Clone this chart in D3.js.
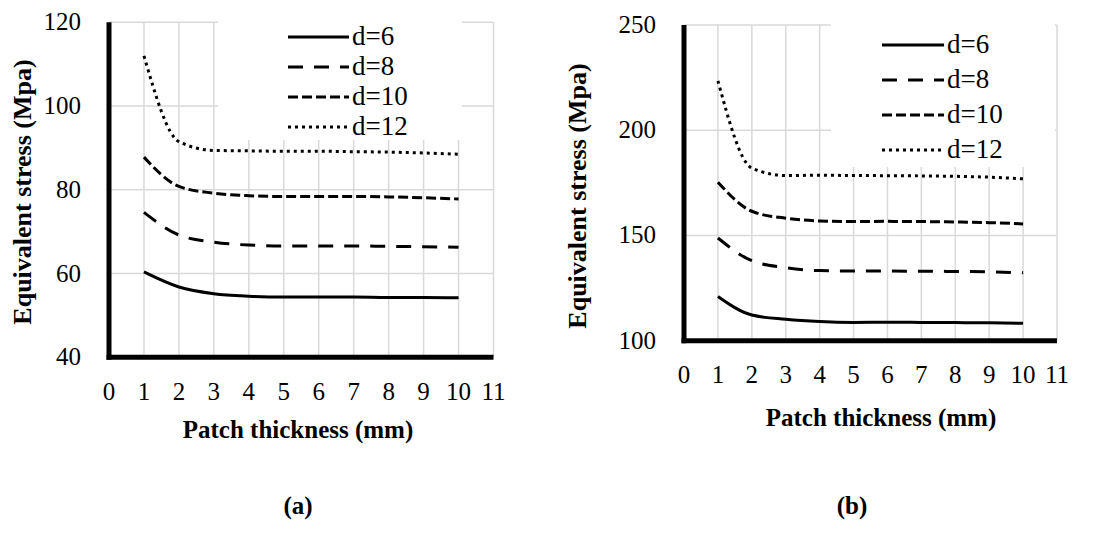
<!DOCTYPE html>
<html><head><meta charset="utf-8">
<script src="https://cdn.jsdelivr.net/npm/d3@7"></script>
<style>body{margin:0;background:#fff}svg{display:block}</style>
</head><body><svg id="c" width="1100" height="541" font-family="'Liberation Serif', 'Times New Roman', Times, serif"></svg>
<script>
const thickness = [1,2,3,4,5,6,7,8,9,10];
const seriesNames = ["d=6","d=8","d=10","d=12"];
const xTicks = [0,1,2,3,4,5,6,7,8,9,10,11];
const yTicksA = [40,60,80,100,120];
const yTicksB = [100,150,200,250];
const stressA_d6  = [60.4,56.8,55.2,54.6,54.4,54.4,54.4,54.3,54.3,54.2];
const stressA_d8  = [74.6,69.2,67.5,66.8,66.6,66.6,66.6,66.5,66.4,66.3];
const stressA_d10 = [87.8,80.8,79.2,78.6,78.4,78.4,78.4,78.3,78.1,77.8];
const stressA_d12 = [112,91.5,89.4,89.3,89.2,89.2,89.1,89.0,88.8,88.5];
const stressB_d6  = [121,112.2,110.2,109.1,108.7,108.8,108.7,108.6,108.5,108.3];
const stressB_d8  = [148.8,138,134.7,133.3,133.1,133.1,133.0,132.9,132.7,132.3];
const stressB_d10 = [175.3,161.5,158.2,156.9,156.6,156.7,156.6,156.4,156.1,155.5];
const stressB_d12 = [223.5,182,178.5,178.6,178.5,178.4,178.3,178.1,177.7,176.9];
const xTitle = "Patch thickness (mm)";
const yTitle = "Equivalent stress (Mpa)";

const dashes = [null, "15 11", "10 4", "3 4"];
const svg = d3.select("#c");

function panel(o){
  const g = svg.append("g");
  const x = d3.scaleLinear().domain([0,11]).range([o.x0,o.x1]);
  const y = d3.scaleLinear().domain(o.ydom).range([o.y0,o.y1]);
  g.selectAll(".vg").data(xTicks.slice(1)).join("line")
    .attr("x1",d=>x(d)).attr("x2",d=>x(d)).attr("y1",o.y0).attr("y2",o.y1)
    .attr("stroke","#d9d9d9").attr("stroke-width",1.5);
  g.selectAll(".hg").data(o.yticks.slice(1)).join("line")
    .attr("x1",o.x0).attr("x2",o.x1).attr("y1",d=>y(d)).attr("y2",d=>y(d))
    .attr("stroke","#d9d9d9").attr("stroke-width",1.5);
  g.append("rect").attr("x",o.lgBox[0]).attr("y",o.y1-3).attr("width",o.lgBox[1]-o.lgBox[0]).attr("height",o.lgBox[2]-o.y1+3).attr("fill","#fff");
  const line = d3.line().x((d,i)=>x(thickness[i])).y(d=>y(d)).curve(d3.curveMonotoneX);
  o.series.forEach((s,i)=>{
    g.append("path").attr("d",line(s)).attr("fill","none").attr("stroke","#000")
      .attr("stroke-width",3).attr("stroke-dasharray",dashes[i]);
  });
  g.append("line").attr("x1",o.x0).attr("x2",o.x0).attr("y1",o.y1).attr("y2",o.y0+2.5).attr("stroke","#000").attr("stroke-width",5);
  g.append("line").attr("x1",o.x0-2.5).attr("x2",o.x1).attr("y1",o.y0).attr("y2",o.y0).attr("stroke","#000").attr("stroke-width",5);
  g.selectAll(".xt").data(xTicks).join("text").attr("x",d=>x(d)).attr("y",o.xtY)
    .attr("text-anchor","middle").attr("font-size",25).text(d=>d);
  g.selectAll(".yt").data(o.yticks).join("text").attr("x",o.ytX).attr("y",d=>y(d)+8)
    .attr("text-anchor","end").attr("font-size",25).text(d=>d);
  seriesNames.forEach((n,i)=>{
    const ly = o.lgY + i*o.lgStep;
    g.append("line").attr("x1",o.lgX0).attr("x2",o.lgX1).attr("y1",ly).attr("y2",ly)
      .attr("stroke","#000").attr("stroke-width",3).attr("stroke-dasharray",dashes[i]);
    g.append("text").attr("x",o.lgX1+3).attr("y",ly+8).attr("font-size",27).text(n);
  });
  g.append("text").attr("x",o.xtitleX).attr("y",o.xtitleY).attr("text-anchor","middle")
    .attr("font-weight","bold").attr("font-size",25).text(xTitle);
  g.append("text").attr("transform",`translate(${o.ytitleX},${o.ytitleY}) rotate(-90)`)
    .attr("text-anchor","middle").attr("font-weight","bold").attr("font-size",26).text(yTitle);
  g.append("text").attr("x",o.capX).attr("y",514).attr("text-anchor","middle")
    .attr("font-weight","bold").attr("font-size",25).text(o.cap);
}

panel({x0:109,x1:493.5,y0:357.3,y1:22.3,ydom:[40,120],yticks:yTicksA,
  series:[stressA_d6,stressA_d8,stressA_d10,stressA_d12],
  lgBox:[218,462,140],lgX0:288,lgX1:349,lgY:37,lgStep:30,
  xtY:400,ytX:81,xtitleX:298,xtitleY:438,ytitleX:31,ytitleY:192,capX:298,cap:"(a)"});
panel({x0:684,x1:1057,y0:340.7,y1:25,ydom:[100,250],yticks:yTicksB,
  series:[stressB_d6,stressB_d8,stressB_d10,stressB_d12],
  lgBox:[831,1055,167],lgX0:882,lgX1:944,lgY:45,lgStep:35,
  xtY:383,ytX:656,xtitleX:881,xtitleY:426,ytitleX:586,ytitleY:196,capX:852,cap:"(b)"});
</script></body></html>
